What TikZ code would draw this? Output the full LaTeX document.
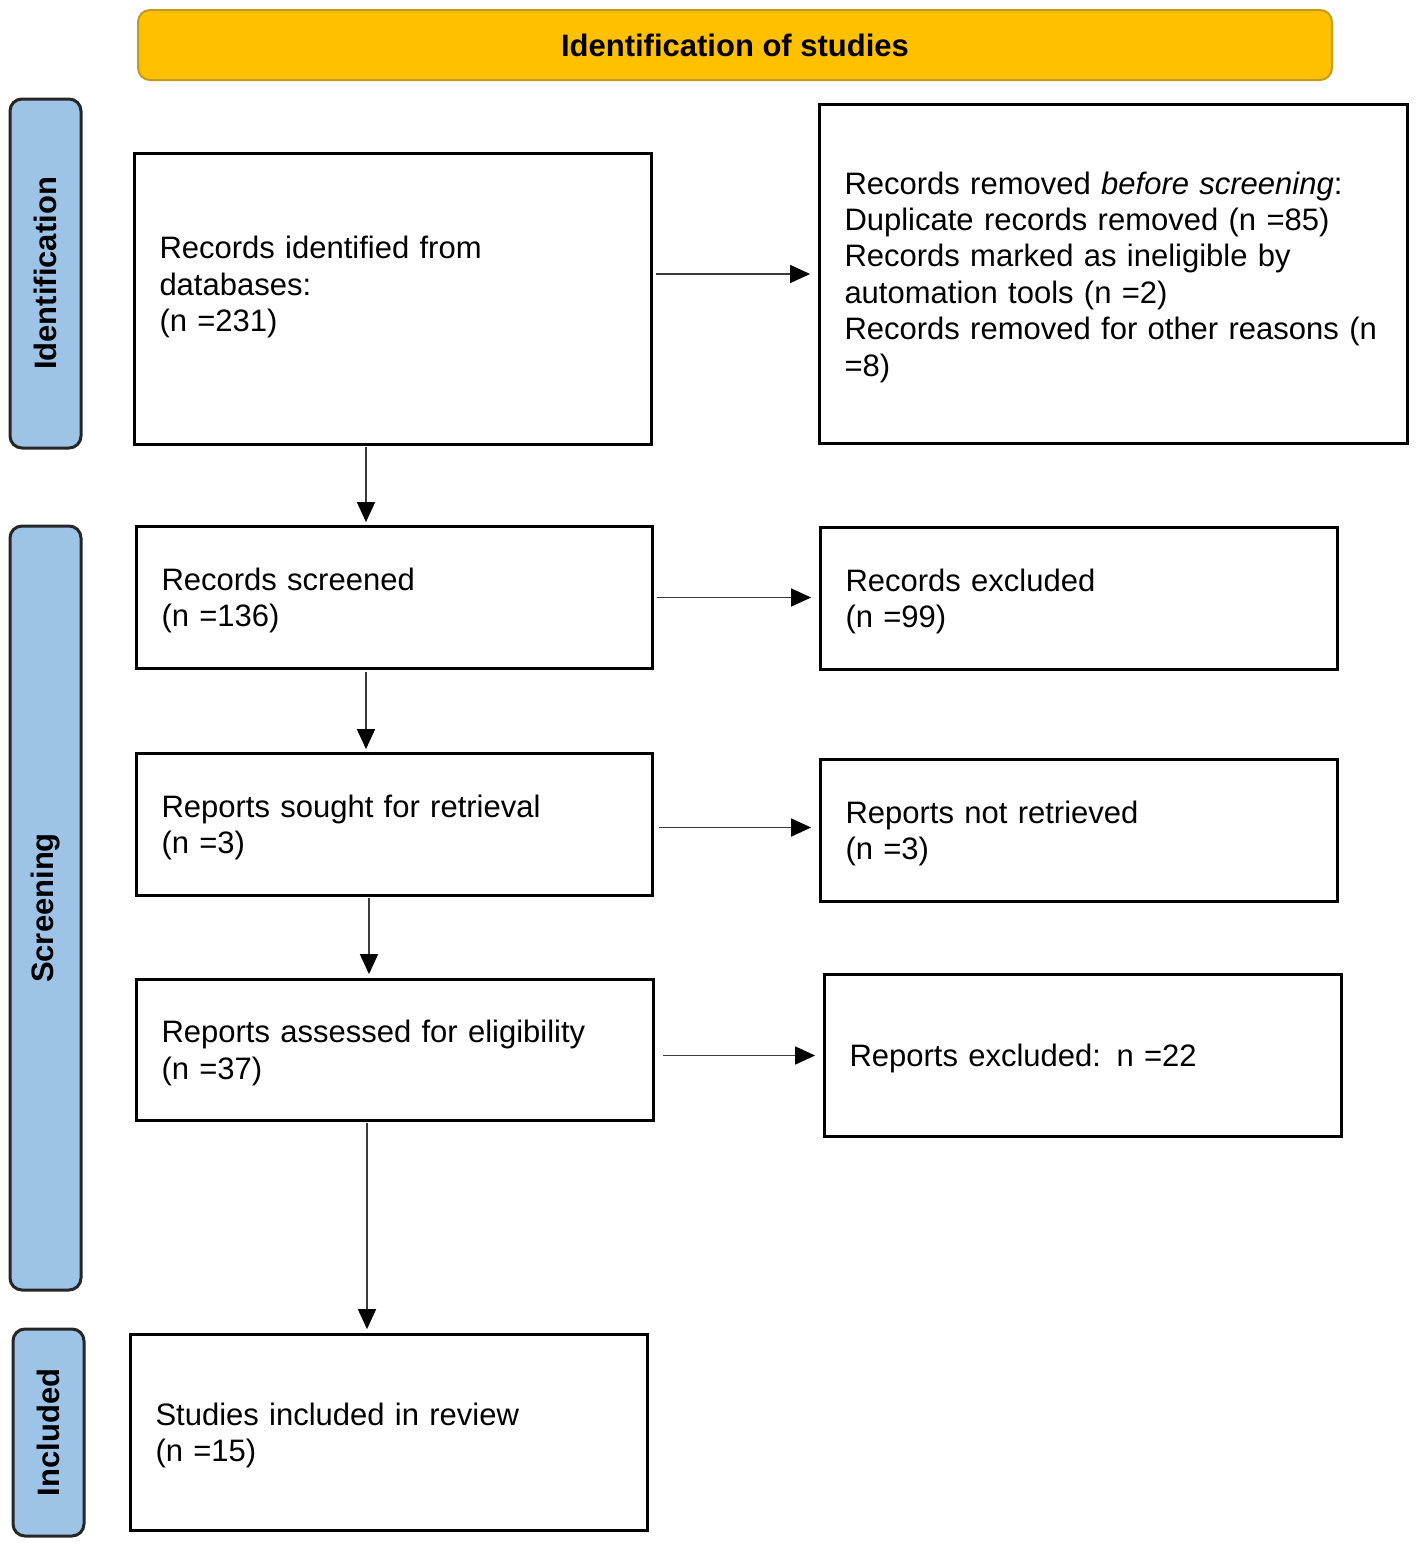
\documentclass[tikz,border=0pt]{standalone}
\usepackage{fontspec}
\setmainfont{Liberation Sans}
\usetikzlibrary{arrows.meta,calc}
\definecolor{gold}{HTML}{FFC000}
\definecolor{goldline}{HTML}{C49A1A}
\definecolor{phase}{HTML}{9DC3E6}
\definecolor{phaseline}{HTML}{262626}
\definecolor{arrline}{HTML}{3A3A3A}
\newcommand\tstrut{\rule{0pt}{28.5pt}}
\begin{document}
\begin{tikzpicture}[x=1pt,y=-1pt,
  txt/.style={font=\fontsize{31}{36.4}\selectfont},
  box/.style={txt, draw=black, line width=2.8pt, align=left, inner xsep=25pt, inner ysep=0pt},
  phasebox/.style={draw=phaseline, fill=phase, line width=3pt, rounded corners=12pt, rotate=90,
    font=\fontsize{31}{36}\selectfont\bfseries, inner sep=0pt, minimum height=71pt},
  headbox/.style={draw=goldline, fill=gold, line width=2pt, rounded corners=12pt,
    font=\fontsize{31}{36}\selectfont\bfseries, inner sep=0pt},
  arr/.style={draw=arrline, line width=1.6pt, -{Triangle[length=20pt,width=18pt,color=black]}}
]
\useasboundingbox (0,0) rectangle (1418,1548);

% header
\node[headbox, minimum width=1194pt, minimum height=70pt] (head) at (735,45) {Identification of studies};

% phase labels
\node[phasebox, minimum width=349pt] (pid) at (45.5,273.5) {Identification};
\node[phasebox, minimum width=764pt] (pscr) at (45.5,908) {Screening};
\node[phasebox, minimum width=207pt] (pinc) at (48.5,1432.5) {Included};

% left column
\node[box, minimum width=517pt, minimum height=291pt, text width=467pt] (b1) at (393,299)
  {\tstrut Records identified from\\ databases:\\ (n =231)\\ \mbox{}};
\node[box, minimum width=516pt, minimum height=142pt, text width=466pt] (b2) at (394.5,597.5)
  {\tstrut Records screened\\ (n =136)};
\node[box, minimum width=516pt, minimum height=142pt, text width=466pt] (b3) at (394.5,824.5)
  {\tstrut Reports sought for retrieval\\ (n =3)};
\node[box, minimum width=517pt, minimum height=141pt, text width=467pt] (b4) at (395,1050)
  {\tstrut Reports assessed for eligibility\\ (n =37)};
\node[box, minimum width=517pt, minimum height=196pt, text width=467pt] (b5) at (389,1432.5)
  {\tstrut Studies included in review\\ (n =15)};

% right column
\node[box, minimum width=588pt, minimum height=339pt, text width=538pt] (r1) at (1113.5,274)
  {\tstrut Records removed \textit{before screening}:\\ Duplicate records removed (n =85)\\ Records marked as ineligible by\\ automation tools (n =2)\\ Records removed for other reasons (n\\ =8)};
\node[box, minimum width=517pt, minimum height=142pt, text width=467pt] (r2) at (1079,598.5)
  {\tstrut Records excluded\\ (n =99)};
\node[box, minimum width=517pt, minimum height=142pt, text width=467pt] (r3) at (1079,830.5)
  {\tstrut Reports not retrieved\\ (n =3)};
\node[box, minimum width=517pt, minimum height=162pt, text width=467pt] (r4) at (1083,1055.5)
  {\tstrut Reports excluded: n =22};

% arrow columns
\coordinate (va) at (366,0);
\coordinate (vb) at (369,0);
\coordinate (vc) at (367,0);

% horizontal arrows
\draw[arr, shorten <=3pt, shorten >=8pt] (b1.east |- r1.west) -- (r1.west);
\draw[arr, shorten <=3pt, shorten >=8pt] (b2.east) -- (b2.east -| r2.west);
\draw[arr, shorten <=5pt, shorten >=8pt] (b3.east) ++(0,3) coordinate (h3) -- (h3 -| r3.west);
\draw[arr, shorten <=8pt, shorten >=8pt] (b4.east |- r4.west) -- (r4.west);

% vertical arrows
\draw[arr, shorten <=1pt, shorten >=3pt] (b1.south -| va) -- (b2.north -| va);
\draw[arr, shorten <=2pt, shorten >=3pt] (b2.south -| va) -- (b3.north -| va);
\draw[arr, shorten <=1pt, shorten >=4pt] (b3.south -| vb) -- (b4.north -| vb);
\draw[arr, shorten <=1pt, shorten >=4pt] (b4.south -| vc) -- (b5.north -| vc);
\end{tikzpicture}
\end{document}
